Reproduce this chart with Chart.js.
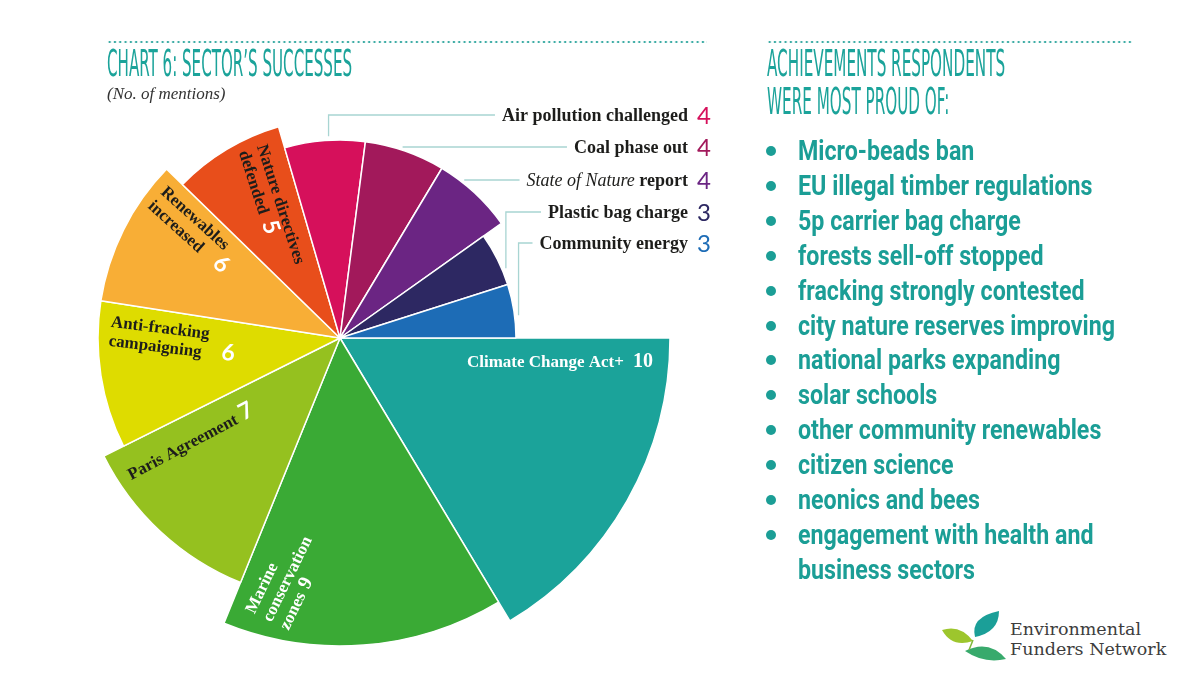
<!DOCTYPE html>
<html>
<head>
<meta charset="utf-8">
<title>Sector's successes</title>
<script src="https://cdn.jsdelivr.net/npm/chart.js@4.4.0/dist/chart.umd.min.js"></script>
<style>
  html, body { margin: 0; padding: 0; background: #fff; }
  body { width: 1200px; height: 675px; position: relative; overflow: hidden; }
  #sectorChart { position: absolute; left: 0; top: 0; }
  .dots {
    position: absolute; top: 40px; height: 4px;
    background: radial-gradient(circle, #3fada6 1.1px, transparent 1.5px) 0 0 / 5.3px 4px repeat-x;
  }
  .heading {
    position: absolute; top: 45px; color: #1ba39a; white-space: nowrap;
    font-family: "Liberation Sans Narrow", "DejaVu Sans Condensed", sans-serif;
    font-size: 37px; line-height: 38px; transform-origin: left top; display: inline-block;
  }
  #subTitle {
    position: absolute; left: 107px; top: 84px; color: #333;
    font-family: "Liberation Serif", serif; font-style: italic; font-size: 17px;
  }
  #proudList {
    position: absolute; left: 798px; top: 134px; margin: 0; padding: 0; list-style: none;
    font-family: Roboto, sans-serif;
    font-weight: bold; font-size: 27px; line-height: 34.9px; color: #1b9e96; white-space: nowrap;
  }
  #proudList li { position: relative; }
  #proudList li span { display: inline-block; transform-origin: left center; }
  #proudList li::before {
    content: ""; position: absolute; left: -32px; top: 12px;
    width: 10px; height: 10px; border-radius: 50%; background: #1b9e96;
  }
  #proudList li.cont::before { display: none; }
  #logoText {
    position: absolute; left: 1010px; top: 619px; color: #3d3d3d;
    font-family: "DejaVu Serif", serif; font-size: 17.5px; line-height: 20px;
  }
  #logoLeaves { position: absolute; left: 938px; top: 605px; }
</style>
</head>
<body>
<canvas id="sectorChart" width="740" height="675"></canvas>

<div class="dots" style="left:107px; width:600px;"></div>
<div class="dots" style="left:767px; width:366px;"></div>
<div class="heading" id="chartTitle" style="left:107px;">CHART 6: SECTOR’S SUCCESSES</div>
<div id="subTitle">(No. of mentions)</div>
<div class="heading" id="sideTitle" style="left:767px;">ACHIEVEMENTS RESPONDENTS<br>WERE MOST PROUD OF:</div>
<ul id="proudList"></ul>

<svg id="logoLeaves" width="75" height="62" viewBox="938 605 75 62">
  <path d="M975,637 Q970,617 999,611 Q999,632 975,637 Z" fill="#1b9f98"/>
  <path d="M973,641 Q960,624 942,630 Q952,648 973,641 Z" fill="#9dc62d"/>
  <path d="M965,651 Q989,639 1006,659 Q984,664 965,651 Z" fill="#38aa6c"/>
  <path d="M973,640 L969,650" stroke="#7fb83a" stroke-width="1.5"/>
</svg>
<div id="logoText">Environmental<br>Funders Network</div>

<script>
const categories = ["Climate Change Act+", "Marine conservation zones", "Paris Agreement",
    "Anti-fracking campaigning", "Renewables increased", "Nature directives defended",
    "Air pollution challenged", "Coal phase out", "State of Nature report",
    "Plastic bag charge", "Community energy"];
const mentions = [10, 9, 7, 6, 6, 5, 4, 4, 4, 3, 3];
const sliceColors = ["#1ba39a", "#3aaa35", "#95c11f", "#dedc00", "#f8ae36", "#e84e1b",
    "#d6105b", "#a2195b", "#6b2583", "#2d2862", "#1d6cb6"];

// how the long names break inside the slices
const wrapped = [["Climate Change Act+"], ["Marine", "conservation", "zones"], ["Paris Agreement"],
    ["Anti-fracking", "campaigning"], ["Renewables", "increased"], ["Nature directives", "defended"]];

// last entry is the second line of the one before
const proudOf = ["Micro-beads ban", "EU illegal timber regulations", "5p carrier bag charge",
    "forests sell-off stopped", "fracking strongly contested", "city nature reserves improving",
    "national parks expanding", "solar schools", "other community renewables", "citizen science",
    "neonics and bees", "engagement with health and", "business sectors"];

const total = mentions.reduce((s, v) => s + v, 0);
const dark = "#1d1d1b";

// label placement inside slices: fraction of the slice angle, fraction of radius, text rotation
const innerLayout = [
    { frac: 0.10, r: 0.67, rot: 0, color: "#fff", gap: 9, serifNum: true },
    { frac: 0.82, r: 0.80, rot: -64, color: "#fff", gap: 6, serifNum: true },
    { frac: 0.80, r: 0.69, rot: -28, color: dark, gap: 5 },
    { frac: 0.75, r: 0.69, rot: 7, color: dark, gap: 20 },
    { frac: 0.79, r: 0.75, rot: 42, color: dark, gap: 18 },
    { frac: 0.63, r: 0.67, rot: 72, color: dark, gap: 8 }
];
// labels outside the pie with leader lines
const outerLayout = {
    6: { y: 115, kind: "elbow", frac: 0.55, gap: 4 },
    7: { y: 147, kind: "straight", gap: 3 },
    8: { y: 180, kind: "straight", gap: 3, italic: "State of Nature" },
    9: { y: 212, kind: "elbow", frac: 0.71, gap: 4 },
    10: { y: 243, kind: "elbow", frac: 0.59, gap: 4 }
};
const outerTextRight = 688;
const outerNumLeft = 697;

function drawInner(ctx, p, i) {
    const L = innerLayout[i];
    const a = p.startAngle + (p.endAngle - p.startAngle) * L.frac;
    const r = p.outerRadius * L.r;
    const lines = wrapped[i];
    const textFont = "bold 17px 'Liberation Serif', serif";
    const numFont = L.serifNum ? "bold 20px 'Liberation Serif', serif" : "bold 23px Lato, sans-serif";
    const num = String(mentions[i]);
    const lh = 19;

    ctx.save();
    ctx.translate(p.x + r * Math.cos(a), p.y + r * Math.sin(a));
    ctx.rotate(L.rot * Math.PI / 180);
    ctx.font = textFont;
    const widths = lines.map(t => ctx.measureText(t).width);
    ctx.font = numFont;
    const nw = ctx.measureText(num).width;
    const lastW = widths[widths.length - 1] + L.gap + nw;
    const blockW = Math.max(lastW, ...widths.slice(0, -1));
    const x0 = -blockW / 2;
    const y0 = -(lines.length - 1) * lh / 2 + 6;
    ctx.textBaseline = "alphabetic";
    ctx.textAlign = "left";
    ctx.font = textFont;
    ctx.fillStyle = L.color;
    lines.forEach((t, k) => ctx.fillText(t, x0, y0 + k * lh));
    ctx.font = numFont;
    ctx.fillStyle = "#fff";
    ctx.fillText(num, x0 + widths[widths.length - 1] + L.gap, y0 + (lines.length - 1) * lh);
    ctx.restore();
}

function drawOuter(ctx, p, i) {
    const L = outerLayout[i];
    const name = categories[i];
    const boldFont = "bold 18px 'Liberation Serif', serif";
    const italicFont = "italic 18px 'Liberation Serif', serif";
    ctx.save();
    ctx.textBaseline = "middle";
    ctx.textAlign = "left";

    // text segments, right aligned
    let segs = [[name, boldFont]];
    if (L.italic && name.startsWith(L.italic)) {
        segs = [[L.italic, italicFont], [name.slice(L.italic.length), boldFont]];
    }
    let width = 0;
    segs.forEach(s => { ctx.font = s[1]; s.push(ctx.measureText(s[0]).width); width += s[2]; });
    let x = outerTextRight - width;
    const textLeft = x;
    ctx.fillStyle = dark;
    segs.forEach(s => { ctx.font = s[1]; ctx.fillText(s[0], x, L.y + 1); x += s[2]; });

    ctx.font = "24px Lato, sans-serif";
    ctx.fillStyle = sliceColors[i];
    ctx.fillText(String(mentions[i]), outerNumLeft, L.y + 1);

    // leader line
    const R = p.outerRadius + L.gap;
    ctx.strokeStyle = "#a8d5d2";
    ctx.lineWidth = 1.3;
    ctx.beginPath();
    if (L.kind === "elbow") {
        const a = p.startAngle + (p.endAngle - p.startAngle) * L.frac;
        const px = p.x + R * Math.cos(a);
        const py = p.y + R * Math.sin(a);
        ctx.moveTo(px, py);
        ctx.lineTo(px, L.y);
    } else {
        const dy = L.y - p.y;
        ctx.moveTo(p.x + Math.sqrt(R * R - dy * dy), L.y);
    }
    ctx.lineTo(textLeft - 7, L.y);
    ctx.stroke();
    ctx.restore();
}

const sliceLabels = {
    id: "sliceLabels",
    afterDatasetsDraw(chart) {
        const ctx = chart.ctx;
        chart.getDatasetMeta(0).data.forEach((arc, i) => {
            const p = arc.getProps(["x", "y", "startAngle", "endAngle", "outerRadius"], true);
            if (innerLayout[i]) drawInner(ctx, p, i);
            if (outerLayout[i]) drawOuter(ctx, p, i);
        });
    }
};

function fitWidth(el, w) {
    el.style.transform = "scaleX(" + (w / el.scrollWidth) + ")";
}

const list = document.getElementById("proudList");
list.innerHTML = proudOf.map((t, k) =>
    (k === proudOf.length - 1 ? "<li class='cont'>" : "<li>") + "<span>" + t + "</span></li>").join("");
const spans = list.querySelectorAll("span");
const squeeze = 317 / spans[5].getBoundingClientRect().width;
spans.forEach(s => { s.style.transform = "scaleX(" + squeeze + ")"; });

fitWidth(document.getElementById("chartTitle"), 245);
fitWidth(document.getElementById("sideTitle"), 238);

new Chart(document.getElementById("sectorChart"), {
    type: "polarArea",
    data: {
        labels: categories,
        datasets: [{
            data: mentions,
            backgroundColor: sliceColors,
            borderColor: "#ffffff",
            borderWidth: 1.5,
            angle: c => mentions[c.dataIndex] / total * 360
        }]
    },
    options: {
        responsive: false,
        animation: false,
        layout: { padding: { left: 10, top: 8, right: 70, bottom: 7 } },
        plugins: { legend: { display: false }, tooltip: { enabled: false } },
        scales: {
            r: {
                min: -5,
                max: 10,
                startAngle: 90,
                ticks: { display: false },
                grid: { display: false },
                angleLines: { display: false },
                pointLabels: { display: false }
            }
        }
    },
    plugins: [sliceLabels]
});
</script>
</body>
</html>
